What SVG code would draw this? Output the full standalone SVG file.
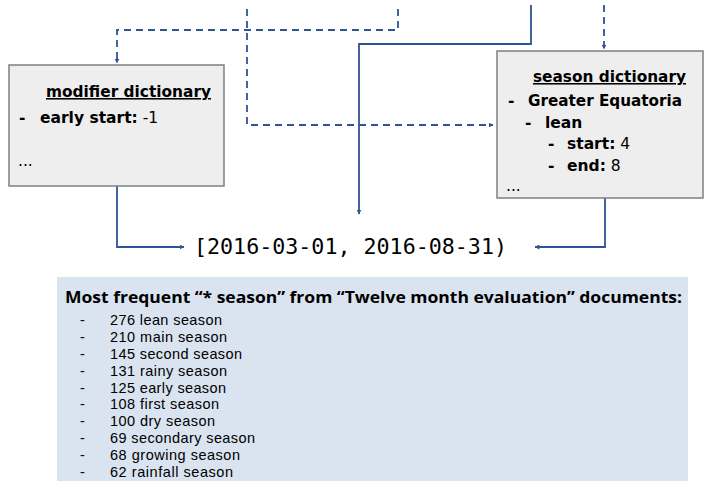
<svg xmlns="http://www.w3.org/2000/svg" width="704" height="481" viewBox="0 0 704 481">
<defs>
<marker id="ah" viewBox="0 0 10 10" refX="9" refY="5" markerWidth="5" markerHeight="5" orient="auto" markerUnits="userSpaceOnUse">
<path d="M0,0 L10,5 L0,10 z" fill="#2f5496"/>
</marker>
</defs>
<style>
.box{fill:#eeeeee;stroke:#7f7f7f;stroke-width:1.5}
.ln{fill:none;stroke:#2f5496;stroke-width:1.8}
.ds{stroke-dasharray:7,5}
.t{font-family:"DejaVu Sans",Verdana,sans-serif;font-size:15.5px;fill:#000}
.b{font-weight:bold}
.u{text-decoration:underline}
.mono{font-family:"DejaVu Sans Mono","Liberation Mono",monospace;font-size:21.5px;fill:#000}
.c{font-family:"Open Sans","Liberation Sans",sans-serif;fill:#000}
.li{font-family:"Liberation Sans",Arial,sans-serif;font-size:14.5px;fill:#000}
</style>
<rect x="57" y="277" width="631" height="204" fill="#dae3f0"/>
<g id="connectors">
<path class="ln ds" d="M247,9 V125 H493" marker-end="url(#ah)"/>
<path class="ln ds" d="M398,9 V30 H117 V63" marker-end="url(#ah)"/>
<path class="ln ds" d="M604,5 V49" marker-end="url(#ah)"/>
<path class="ln" d="M531,5 V44 H359 V214" marker-end="url(#ah)"/>
<path class="ln" d="M117,186 V247 H184" marker-end="url(#ah)"/>
<path class="ln" d="M605,198 V247 H535" marker-end="url(#ah)"/>
</g>
<g id="modifier">
<rect class="box" x="9" y="65" width="215" height="121"/>
<text class="t b u" x="46" y="97" textLength="165" lengthAdjust="spacingAndGlyphs">modifier dictionary</text>
<text class="t b" x="19" y="123">-</text>
<text class="t" x="40" y="123"><tspan class="b">early start:</tspan> -1</text>
<text class="t" x="18" y="166">...</text>
</g>
<g id="season">
<rect class="box" x="497" y="51" width="206" height="147"/>
<text class="t b u" x="533" y="82" textLength="153" lengthAdjust="spacingAndGlyphs">season dictionary</text>
<text class="t b" x="508" y="106">-</text>
<text class="t b" x="528" y="106" textLength="154" lengthAdjust="spacingAndGlyphs">Greater Equatoria</text>
<text class="t b" x="525" y="128">-</text>
<text class="t b" x="545" y="128">lean</text>
<text class="t b" x="548" y="149">-</text>
<text class="t" x="567" y="149"><tspan class="b">start:</tspan> 4</text>
<text class="t b" x="548" y="171">-</text>
<text class="t" x="567" y="171"><tspan class="b">end:</tspan> 8</text>
<text class="t" x="506" y="191">...</text>
</g>
<g id="result">
<text class="mono" x="194" y="254" textLength="313" lengthAdjust="spacingAndGlyphs">[2016-03-01, 2016-08-31)</text>
</g>
<g id="frequency">
<text class="c b" x="65" y="303" font-size="16" textLength="617" lengthAdjust="spacingAndGlyphs">Most frequent “* season” from “Twelve month evaluation” documents:</text>
<g class="li">
<text x="80" y="325">-</text><text x="110" y="325" textLength="112">276 lean season</text>
<text x="80" y="342">-</text><text x="110" y="342" textLength="117">210 main season</text>
<text x="80" y="359">-</text><text x="110" y="359" textLength="132">145 second season</text>
<text x="80" y="376">-</text><text x="110" y="376" textLength="117">131 rainy season</text>
<text x="80" y="393">-</text><text x="110" y="393" textLength="116">125 early season</text>
<text x="80" y="409">-</text><text x="110" y="409" textLength="109">108 first season</text>
<text x="80" y="426">-</text><text x="110" y="426" textLength="105">100 dry season</text>
<text x="80" y="443">-</text><text x="110" y="443" textLength="145">69 secondary season</text>
<text x="80" y="460">-</text><text x="110" y="460" textLength="130">68 growing season</text>
<text x="80" y="477">-</text><text x="110" y="477" textLength="123">62 rainfall season</text>
</g>
</g>
</svg>
